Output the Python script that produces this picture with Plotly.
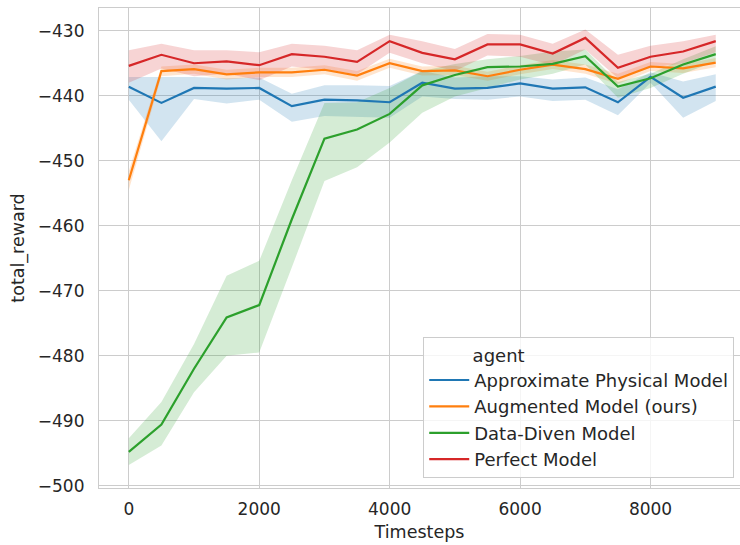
import numpy as np
import plotly.graph_objects as go

# Training timesteps at which each agent was evaluated
timesteps = [0, 500, 1000, 1500, 2000, 2500, 3000, 3500, 4000, 4500,
             5000, 5500, 6000, 6500, 7000, 7500, 8000, 8500, 9000]

agents = ["Approximate Physical Model", "Augmented Model (ours)",
          "Data-Diven Model", "Perfect Model"]

# Mean total reward per agent
approx_mean = [-438.6, -441.1, -438.8, -438.9, -438.8, -441.6, -440.6, -440.7, -441.0, -438.0,
               -438.9, -438.8, -438.1, -438.9, -438.7, -441.0, -437.1, -440.3, -438.6]
augmented_mean = [-453.0, -436.2, -435.9, -436.7, -436.4, -436.4, -436.0, -436.9, -435.0, -436.2,
                  -436.1, -437.0, -436.0, -435.2, -435.9, -437.4, -435.5, -435.8, -434.9]
datadriven_mean = [-494.8, -490.6, -482.0, -474.1, -472.2, -459.0, -446.6, -445.2, -442.8, -438.4,
                   -436.8, -435.6, -435.5, -435.1, -433.9, -438.6, -437.3, -435.2, -433.6]
perfect_mean = [-435.4, -433.7, -435.0, -434.7, -435.3, -433.6, -434.0, -434.8, -431.6, -433.4,
                -434.4, -432.1, -432.1, -433.5, -431.1, -435.7, -434.0, -433.2, -431.6]

# Confidence interval bounds per agent
approx_upper = [-437.1, -437.1, -437.1, -437.3, -437.2, -439.7, -438.4, -438.4, -438.5, -436.2,
                -437.2, -437.0, -437.0, -437.5, -437.2, -439.0, -436.4, -437.8, -436.7]
approx_lower = [-440.6, -447.0, -440.5, -441.2, -440.6, -444.0, -443.1, -443.2, -443.4, -440.1,
                -440.5, -440.6, -440.1, -440.8, -440.6, -443.0, -438.0, -443.4, -440.8]
augmented_upper = [-451.6, -435.5, -435.2, -436.0, -435.7, -435.7, -435.3, -436.2, -434.3, -435.5,
                   -435.4, -436.3, -435.3, -434.5, -435.2, -436.6, -434.8, -435.1, -434.2]
augmented_lower = [-454.5, -437.0, -436.6, -437.5, -437.1, -437.1, -436.7, -437.7, -435.7, -436.9,
                   -436.8, -437.7, -436.7, -435.9, -436.6, -438.2, -436.2, -436.5, -435.6]
datadriven_upper = [-492.7, -487.1, -478.2, -467.7, -465.4, -453.0, -441.1, -441.0, -438.8, -436.2,
                    -435.1, -434.4, -433.9, -433.2, -432.9, -437.9, -436.6, -434.4, -432.4]
datadriven_lower = [-496.8, -493.8, -485.6, -480.0, -479.5, -466.4, -453.1, -451.0, -447.2, -442.6,
                    -440.1, -438.8, -437.5, -436.6, -435.2, -440.3, -438.8, -436.6, -434.7]
perfect_upper = [-433.0, -432.0, -433.0, -433.0, -433.3, -432.0, -432.3, -433.0, -430.6, -431.6,
                 -432.8, -430.5, -430.6, -432.0, -429.8, -433.7, -432.3, -431.6, -430.6]
perfect_lower = [-438.0, -435.8, -437.0, -436.6, -437.6, -435.5, -436.0, -436.7, -433.4, -435.0,
                 -436.2, -433.8, -434.0, -435.3, -432.9, -437.3, -435.7, -435.0, -433.3]

means = [approx_mean, augmented_mean, datadriven_mean, perfect_mean]
uppers = [approx_upper, augmented_upper, datadriven_upper, perfect_upper]
lowers = [approx_lower, augmented_lower, datadriven_lower, perfect_lower]
colors = ["#1f77b4", "#ff7f0e", "#2ca02c", "#d62728"]
band_colors = ["rgba(31,119,180,0.2)", "rgba(255,127,14,0.2)",
               "rgba(44,160,44,0.2)", "rgba(214,39,40,0.2)"]

FONT = "DejaVu Sans"
TEXT = "#262626"
GRID = "#cccccc"

fig = go.Figure()

# Shaded confidence bands first, so every line sits above them
for up, lo, bc in zip(uppers, lowers, band_colors):
    xs = list(timesteps) + list(timesteps[::-1])
    ys = list(up) + list(lo[::-1])
    fig.add_trace(go.Scatter(x=xs, y=ys, fill="toself", fillcolor=bc,
                             line=dict(width=0), mode="lines",
                             hoverinfo="skip", showlegend=False))

for name, m, c in zip(agents, means, colors):
    fig.add_trace(go.Scatter(x=timesteps, y=m, mode="lines", name=name,
                             line=dict(color=c, width=2.2)))

# Centred legend title, padded on the right so it sits over the entry labels
legend_title = "agent" + "\u00a0" * 28

fig.update_layout(
    width=740, height=545,
    margin=dict(l=99, r=0, t=8, b=57),
    paper_bgcolor="white", plot_bgcolor="white",
    font=dict(family=FONT, size=17, color=TEXT),
    legend=dict(
        title=dict(text=legend_title, side="top center", font=dict(size=18, color=TEXT)),
        x=0.991, y=0.02, xanchor="right", yanchor="bottom",
        bgcolor="rgba(255,255,255,0.8)", bordercolor=GRID, borderwidth=1,
        font=dict(size=18, color=TEXT), itemwidth=40, tracegroupgap=0,
    ),
    xaxis=dict(
        range=[-457, 9372], tickvals=[0, 2000, 4000, 6000, 8000],
        showgrid=True, gridcolor=GRID, gridwidth=1.2, zeroline=False,
        showline=True, linecolor=GRID, linewidth=1.2, mirror=True,
        ticks="outside", ticklen=0, ticklabelstandoff=5,
        tickfont=dict(size=17),
        title=dict(text="Timesteps", font=dict(size=17.5, color=TEXT), standoff=8),
    ),
    yaxis=dict(
        range=[-500.35, -426.5], tickvals=[-500, -490, -480, -470, -460, -450, -440, -430],
        showgrid=True, gridcolor=GRID, gridwidth=1.2, zeroline=False,
        showline=True, linecolor=GRID, linewidth=1.2, mirror=True,
        ticks="outside", ticklen=0, ticklabelstandoff=10,
        tickfont=dict(size=17),
        title=dict(text="total_reward", font=dict(size=17.5, color=TEXT), standoff=8),
    ),
)

fig.write_html("out.html")
